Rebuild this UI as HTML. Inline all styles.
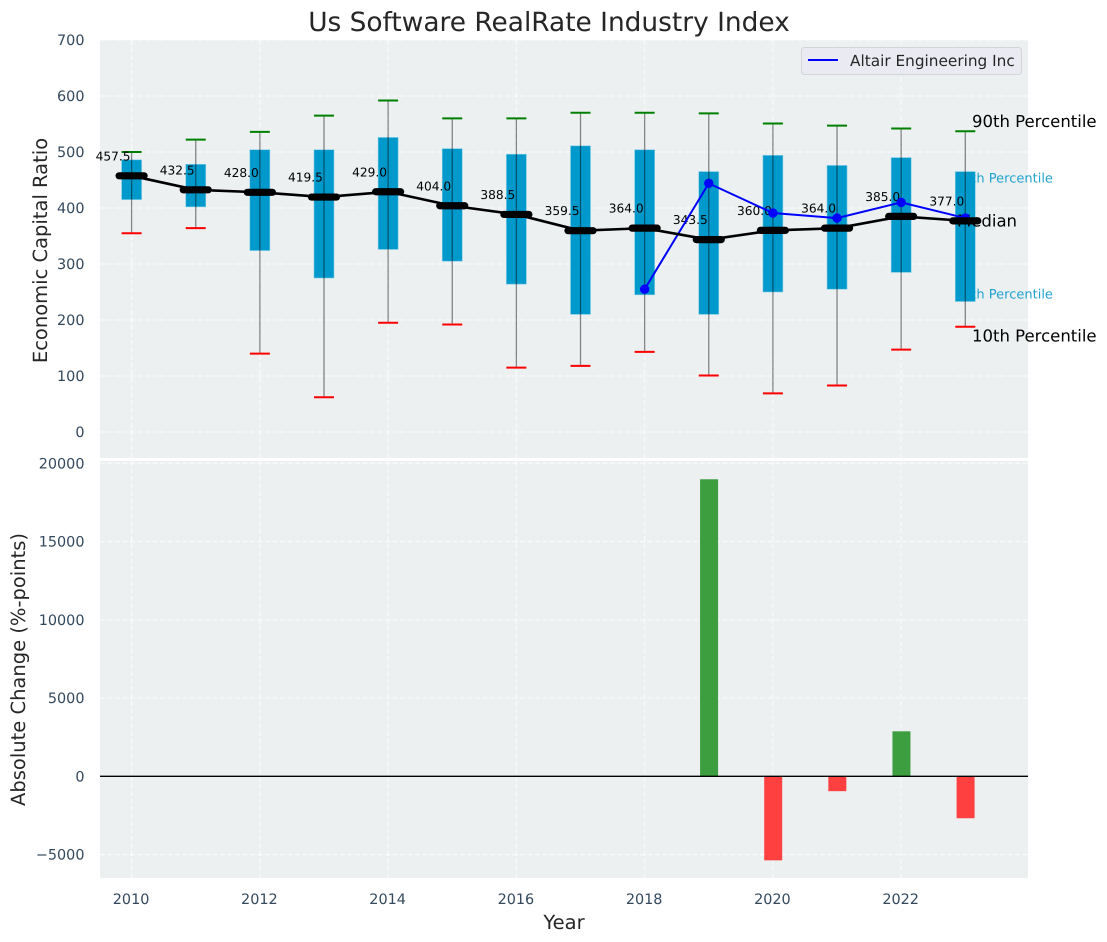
<!DOCTYPE html>
<html lang="en">
<head>
<meta charset="utf-8">
<title>Us Software RealRate Industry Index</title>
<style>
html,body{margin:0;padding:0;background:#fff;width:1107px;height:942px;overflow:hidden}
svg{display:block}
text{font-family:"DejaVu Sans","Liberation Sans",sans-serif;text-rendering:geometricPrecision}
</style>
</head>
<body>
<svg id="chart" xmlns="http://www.w3.org/2000/svg" width="1107" height="942" viewBox="0 0 1107 942">
  <text x="549" y="31" text-anchor="middle" font-size="26.4" fill="#262626">Us Software RealRate Industry Index</text>
  <rect x="100" y="40" width="928" height="418" fill="#ecf0f1"/>
  <rect x="100" y="461" width="928" height="417" fill="#ecf0f1"/>
  <g id="grid"></g>
  <g id="ticks"></g>
  <text transform="translate(47,250.5) rotate(-90)" text-anchor="middle" font-size="19.5" fill="#262626">Economic Capital Ratio</text>
  <text transform="translate(25,669.5) rotate(-90)" text-anchor="middle" font-size="19.5" fill="#262626">Absolute Change (%-points)</text>
  <text x="564" y="929" text-anchor="middle" font-size="19.5" fill="#262626">Year</text>
  <g id="under-labels"></g>
  <g id="boxes"></g>
  <g id="labels"></g>
  <g id="annotations"></g>
  <g id="altair"></g>
  <g id="median"></g>
  <g id="bars"></g>
  <line x1="100" x2="1028" y1="776.3" y2="776.3" stroke="#000" stroke-width="1.4"/>
  <g>
    <rect x="801.5" y="47.5" width="220" height="27" rx="3" fill="#eaeaf2" stroke="#d4d4d8"/>
    <line x1="808" x2="838" y1="60" y2="60" stroke="#0000ff" stroke-width="2"/>
    <text x="850" y="66" font-size="15.3" fill="#262626">Altair Engineering Inc</text>
  </g>
</svg>
<script>
const years = [2010,2011,2012,2013,2014,2015,2016,2017,2018,2019,2020,2021,2022,2023];
const p90 = [500,522,536,565,592,560,560,570,570,569,551,547,542,537];
const p75 = [486,478,504,504,526,506,496,511,504,465,494,476,490,465];
const medians = [457.5,432.5,428,419.5,429,404,388.5,359.5,364,343.5,360,364,385,377];
const p25 = [415,402,324,275,326,305,264,210,245,210,250,255,285,233];
const p10 = [355,364,140,62,195,192,115,118,143,101,69,83,147,188];
const altairYears = [2018,2019,2020,2021,2022,2023];
const altairValues = [255,444,391,382,410,382];
const changeYears = [2019,2020,2021,2022,2023];
const changeValues = [18980,-5370,-950,2875,-2680];
const xTicks = [2010,2012,2014,2016,2018,2020,2022];
const topTicks = [0,100,200,300,400,500,600,700];
const bottomTicks = [-5000,0,5000,10000,15000,20000];

function xPos(v){ return 131.6 + (v - 2010) * 64.13; }
function yTop(v){ return 432 - v * 0.56; }
function yBottom(v){ return 776.3 - v * 0.01565; }

const NS = 'http://www.w3.org/2000/svg';
function make(tag, attrs, parent, txt){
  const el = document.createElementNS(NS, tag);
  for (const k in attrs) el.setAttribute(k, attrs[k]);
  if (txt !== undefined) el.textContent = txt;
  parent.appendChild(el);
  return el;
}
const grid = document.getElementById('grid');
const ticks = document.getElementById('ticks');
const boxes = document.getElementById('boxes');
const labels = document.getElementById('labels');
const under = document.getElementById('under-labels');
const notes = document.getElementById('annotations');
const altair = document.getElementById('altair');
const median = document.getElementById('median');
const bars = document.getElementById('bars');
const gridStyle = {stroke:'#ffffff','stroke-width':1.1,'stroke-dasharray':'5 2.5',opacity:0.75};
const tickColor = '#34495e';

xTicks.forEach(function(t){
  const x = xPos(t);
  [[40,458],[461,878]].forEach(function(r){
    const g = make('line', Object.assign({x1:x,x2:x,y1:r[0],y2:r[1]}, gridStyle), grid);
    
    
  });
  const l = make('text', {x:x-0.5,y:904,'text-anchor':'middle','font-size':14.4,fill:tickColor}, ticks, String(t));
  
  
});
topTicks.forEach(function(t){
  const y = yTop(t);
  const g = make('line', Object.assign({x1:100,x2:1028,y1:y,y2:y}, gridStyle), grid);
  
  
  const l = make('text', {x:84.5,y:y+5,'text-anchor':'end','font-size':14.4,fill:tickColor}, ticks, String(t));
  
  
});
bottomTicks.forEach(function(t){
  const y = yBottom(t);
  const g = make('line', Object.assign({x1:100,x2:1028,y1:y,y2:y}, gridStyle), grid);
  
  
  const txt = t < 0 ? '\u2212' + Math.abs(t) : String(t);
  const l = make('text', {x:84.5,y:y+5,'text-anchor':'end','font-size':14.4,fill:tickColor}, ticks, txt);
  
  
});

const lastX = xPos(years[years.length - 1]);
const lastIdx = years.length - 1;
const teal1 = make('text', {x:lastX-10.5,y:yTop(p75[lastIdx])+11,'font-size':13,fill:'#1fa3d0'}, under, '75th Percentile');


const teal2 = make('text', {x:lastX-10.5,y:yTop(p25[lastIdx])-3,'font-size':13,fill:'#1fa3d0'}, under, '25th Percentile');



years.forEach(function(yr, i){
  const x = xPos(yr);
  const box = make('rect', {x:x-10,y:yTop(p75[i]),width:20,height:yTop(p25[i])-yTop(p75[i]),fill:'#0099cc',stroke:'#7fcce5','stroke-width':0.6}, boxes);
  
  
  const w = make('line', {x1:x,x2:x,y1:yTop(p90[i]),y2:yTop(p10[i]),stroke:'#000','stroke-opacity':0.45,'stroke-width':1.3}, boxes);
  
  
  const c1 = make('line', {x1:x-10,x2:x+10,y1:yTop(p90[i]),y2:yTop(p90[i]),stroke:'#008000','stroke-width':2}, boxes);
  
  
  const c2 = make('line', {x1:x-10,x2:x+10,y1:yTop(p10[i]),y2:yTop(p10[i]),stroke:'#ff0000','stroke-width':2}, boxes);
  
  
  const lab = make('text', {x:x-18.5,y:yTop(medians[i])-15.5,'text-anchor':'middle','font-size':12.2,fill:'#000'}, labels, medians[i].toFixed(1));
  
  
});

[['90th Percentile',972,127,'annotation-90th-percentile'],['Median',957,226.5,'annotation-median'],['10th Percentile',972,341.5,'annotation-10th-percentile']].forEach(function(a){
  const t = make('text', {x:a[1],y:a[2],'font-size':16.5,fill:'#000'}, notes, a[0]);
  
  
});

const altairPts = altairYears.map(function(y, i){ return xPos(y) + ',' + yTop(altairValues[i]); }).join(' ');
const altairLine = make('polyline', {points:altairPts,fill:'none',stroke:'#0000ff','stroke-width':2}, altair);


altairYears.forEach(function(y, i){
  const m = make('circle', {cx:xPos(y),cy:yTop(altairValues[i]),r:4.7,fill:'#0000ff'}, altair);
  
  
});

const medianPts = years.map(function(y, i){ return xPos(y) + ',' + yTop(medians[i]); }).join(' ');
const medianLine = make('polyline', {points:medianPts,fill:'none',stroke:'#000','stroke-width':2.6}, median);


years.forEach(function(y, i){
  const x = xPos(y);
  const m = make('line', {x1:x-12.5,x2:x+12.5,y1:yTop(medians[i]),y2:yTop(medians[i]),stroke:'#000','stroke-width':7.2,'stroke-linecap':'round'}, median);
  
  
});

changeYears.forEach(function(y, i){
  const v = changeValues[i];
  const top = Math.min(yBottom(v), yBottom(0));
  const h = Math.abs(yBottom(v) - yBottom(0));
  const b = make('rect', {x:xPos(y)-8.7,y:top,width:18,height:h,fill:v >= 0 ? '#3c9e3f' : '#ff4040'}, bars);
  
  
});
</script>
</body>
</html>
